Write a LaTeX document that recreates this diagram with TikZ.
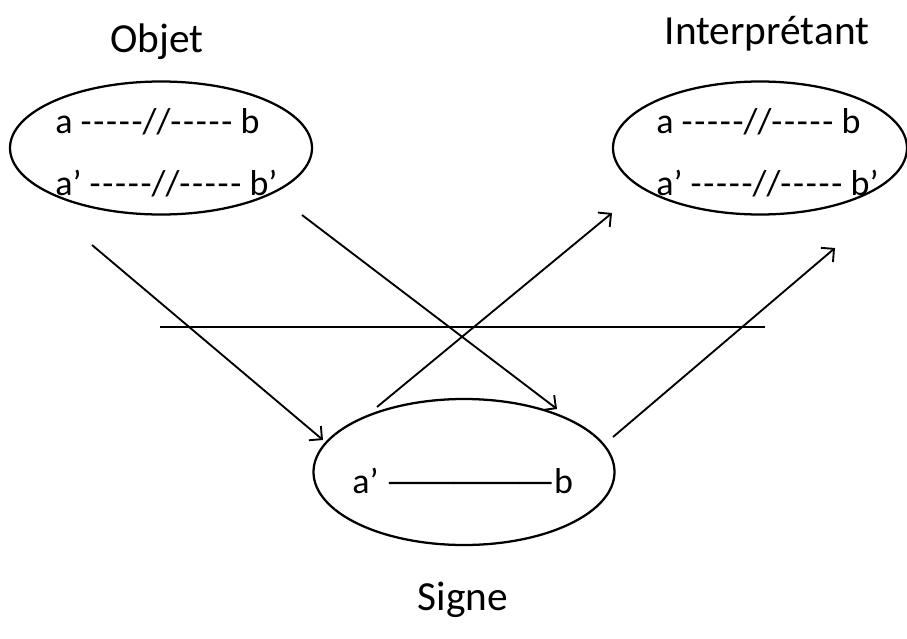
\documentclass[tikz,border=0pt]{standalone}
\usepackage{fontspec}
\setmainfont{Carlito}
\usetikzlibrary{shapes.geometric,arrows.meta}
\newcommand{\hy}{-\kern1.3pt}
\begin{document}
\begin{tikzpicture}[x=0.75pt,y=-0.75pt,
  ell/.style={draw,line width=1.7pt,ellipse,inner sep=0pt},
  title/.style={font=\fontsize{31pt}{36pt}\selectfont,inner sep=0pt},
  inner/.style={font=\fontsize{27pt}{32pt}\selectfont,inner sep=0pt,anchor=base west},
  arr/.style={line width=1.4pt,-{Straight Barb[length=7pt,width=14pt,line width=1.4pt]}},
  ln/.style={line width=1.4pt}]
\useasboundingbox (0,0) rectangle (907,639);
\node[ell,minimum width=302*0.75pt,minimum height=133*0.75pt] (o) at (161,148) {};
\node[ell,minimum width=294*0.75pt,minimum height=133*0.75pt] (i) at (760,148) {};
\node[ell,minimum width=301*0.75pt,minimum height=146*0.75pt] (s) at (464,472) {};
\node[title,anchor=base] (to) at (157,52) {Objet};
\node[title,anchor=base] (ti) at (767,44) {Interprétant};
\node[title,anchor=base] (ts) at (463,610) {Signe};
\node[inner] (o1) at (55,133) {a \hy\hy\hy\hy-//\hy\hy\hy\hy- b};
\node[inner] (o2) at (55,195) {a’ \hy\hy\hy\hy-//\hy\hy\hy\hy- b’};
\node[inner] (i1) at (656,133) {a \hy\hy\hy\hy-//\hy\hy\hy\hy- b};
\node[inner] (i2) at (656,195) {a’ \hy\hy\hy\hy-//\hy\hy\hy\hy- b’};
\node[inner] (s1) at (352,493) {a’\kern5pt\scalebox{1.25}[1]{—\kern-5pt—\kern-5pt—\kern-5pt—\kern-5pt—}\kern-1pt b};
\coordinate (a1s) at (92,245);  \coordinate (a1e) at (323,440);
\coordinate (a2s) at (302,215); \coordinate (a2e) at (557,409);
\coordinate (a3s) at (377,407); \coordinate (a3e) at (612,213);
\coordinate (a4s) at (613,437); \coordinate (a4e) at (835,248);
\coordinate (hl) at (160,327);  \coordinate (hr) at (765,327);
\draw[arr] (a1s) -- (a1e);
\draw[arr] (a2s) -- (a2e);
\draw[arr] (a3s) -- (a3e);
\draw[arr] (a4s) -- (a4e);
\draw[ln] (hl) -- (hr);
\end{tikzpicture}
\end{document}
